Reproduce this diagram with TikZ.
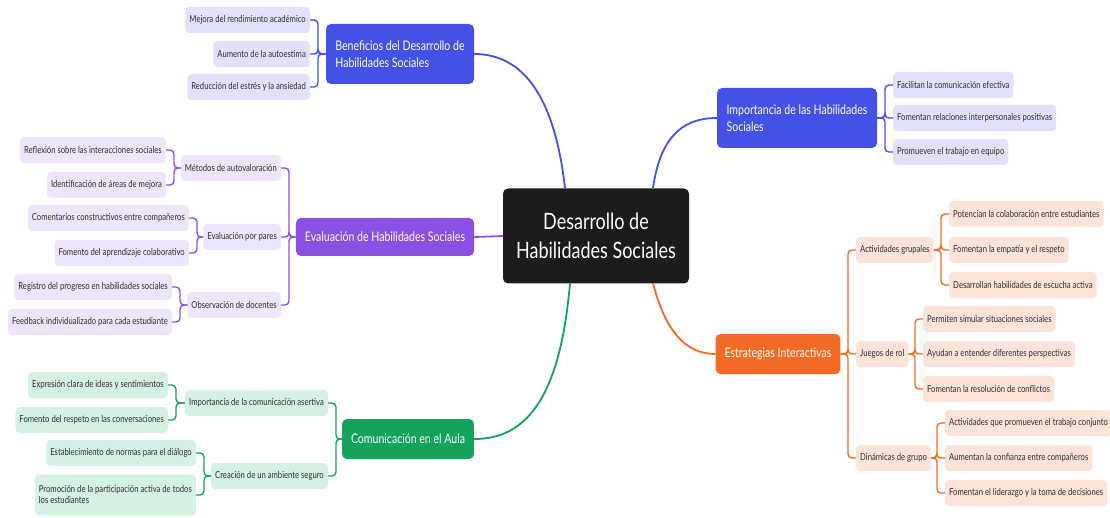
\documentclass[tikz,border=0pt]{standalone}
\usepackage{fontspec}
\setmainfont{Lato}[FakeStretch=0.8]
\definecolor{rootc}{HTML}{1C1C1E}
\definecolor{bluec}{HTML}{4451E6}
\definecolor{bluel}{HTML}{E1E1FB}
\definecolor{purc}{HTML}{8B50E3}
\definecolor{purl}{HTML}{EEE4FB}
\definecolor{grnc}{HTML}{13A35B}
\definecolor{grnl}{HTML}{D5F1E1}
\definecolor{orac}{HTML}{F36A25}
\definecolor{oral}{HTML}{FDE3D8}
\definecolor{leaftext}{HTML}{2E2E2E}
\tikzset{
  leaf/.style={fill=#1,rounded corners=4pt,inner xsep=4pt,minimum height=26pt,
    text=leaftext,font=\fontsize{9.6}{11}\selectfont,align=left},
  branch/.style={fill=#1,rounded corners=5pt,text=white,inner xsep=9pt,
    font=\fontsize{13.2}{16.5}\selectfont,align=left},
  link/.style={draw=#1,line width=1.4pt,rounded corners=4pt},
  trunk/.style={draw=#1,line width=1.8pt},
}
\begin{document}
\begin{tikzpicture}[x=1pt,y=-1pt]
\useasboundingbox(0,0)rectangle(1110,518);
\node[fill=rootc,rounded corners=5pt,text=white,minimum width=186pt,minimum height=95pt,
  font=\fontsize{22.5}{29}\selectfont,align=center](root)at(596,236){Desarrollo de\\Habilidades Sociales};
% ramas
\node[branch=bluec,minimum width=148pt,minimum height=60pt](ben)at(400,54){Beneficios del Desarrollo de\\Habilidades Sociales};
\node[branch=bluec,minimum width=160pt,minimum height=60pt](imp)at(797,118){Importancia de las Habilidades\\Sociales};
\node[branch=purc,minimum width=176pt,minimum height=38pt](eva)at(385,237){Evaluación de Habilidades Sociales};
\node[branch=grnc,minimum width=130pt,minimum height=40pt](com)at(408,439){Comunicación en el Aula};
\node[branch=orac,minimum width=123pt,minimum height=40pt](est)at(778,354){Estrategias Interactivas};
\draw[trunk=bluec](565,188).. controls(555,100)and(525,54)..(ben.east);
\draw[trunk=bluec](653,188).. controls(660,140)and(680,118)..(imp.west);
\draw[trunk=purc](root.west)--(eva.east);
\draw[trunk=grnc](570,283).. controls(560,400)and(525,439)..(com.east);
\draw[trunk=orac](653,283).. controls(665,330)and(685,354)..(est.west);
% beneficios
\node[leaf=bluel,anchor=east](ben1)at(310,20){Mejora del rendimiento académico};
\node[leaf=bluel,anchor=east](ben2)at(310,54){Aumento de la autoestima};
\node[leaf=bluel,anchor=east](ben3)at(310,87){Reducción del estrés y la ansiedad};
\foreach \c in {ben1,ben2,ben3}
  \draw[link=bluec](ben.west)-|([xshift=8pt]\c.east)--(\c.east);
% importancia
\node[leaf=bluel,anchor=west](imp1)at(893,85){Facilitan la comunicación efectiva};
\node[leaf=bluel,anchor=west](imp2)at(893,118){Fomentan relaciones interpersonales positivas};
\node[leaf=bluel,anchor=west](imp3)at(893,152){Promueven el trabajo en equipo};
\foreach \c in {imp1,imp2,imp3}
  \draw[link=bluec](imp.east)-|([xshift=-8pt]\c.west)--(\c.west);
% evaluacion
\node[leaf=purl,anchor=east](met)at(281,168){Métodos de autovaloración};
\node[leaf=purl,anchor=east](par)at(281,237){Evaluación por pares};
\node[leaf=purl,anchor=east](obs)at(281,305){Observación de docentes};
\foreach \c in {met,par,obs}
  \draw[link=purc](eva.west)-|([xshift=8pt]\c.east)--(\c.east);
\node[leaf=purl,anchor=east](met1)at(166,150){Reflexión sobre las interacciones sociales};
\node[leaf=purl,anchor=east](met2)at(166,185){Identificación de áreas de mejora};
\node[leaf=purl,anchor=east](par1)at(189,218){Comentarios constructivos entre compañeros};
\node[leaf=purl,anchor=east](par2)at(189,253){Fomento del aprendizaje colaborativo};
\node[leaf=purl,anchor=east](obs1)at(172,287){Registro del progreso en habilidades sociales};
\node[leaf=purl,anchor=east](obs2)at(172,322){Feedback individualizado para cada estudiante};
\foreach \p/\c in {met/met1,met/met2,par/par1,par/par2,obs/obs1,obs/obs2}
  \draw[link=purc](\p.west)-|([xshift=8pt]\c.east)--(\c.east);
% comunicacion
\node[leaf=grnl,anchor=east](ase)at(328,403){Importancia de la comunicación asertiva};
\node[leaf=grnl,anchor=east](amb)at(328,476){Creación de un ambiente seguro};
\foreach \c in {ase,amb}
  \draw[link=grnc](com.west)-|([xshift=8pt]\c.east)--(\c.east);
\node[leaf=grnl,anchor=east](ase1)at(168,385){Expresión clara de ideas y sentimientos};
\node[leaf=grnl,anchor=east](ase2)at(168,420){Fomento del respeto en las conversaciones};
\node[leaf=grnl,anchor=east](amb1)at(196,453){Establecimiento de normas para el diálogo};
\node[leaf=grnl,anchor=east,minimum height=41pt](amb2)at(196,495){Promoción de la participación activa de todos\\los estudiantes};
\foreach \p/\c in {ase/ase1,ase/ase2,amb/amb1,amb/amb2}
  \draw[link=grnc](\p.west)-|([xshift=8pt]\c.east)--(\c.east);
% estrategias
\node[leaf=oral,anchor=west](gru)at(856,250){Actividades grupales};
\node[leaf=oral,anchor=west](rol)at(856,354){Juegos de rol};
\node[leaf=oral,anchor=west](din)at(856,458){Dinámicas de grupo};
\foreach \c in {gru,rol,din}
  \draw[link=orac](est.east)-|([xshift=-8pt]\c.west)--(\c.west);
\node[leaf=oral,anchor=west](gru1)at(949,214){Potencian la colaboración entre estudiantes};
\node[leaf=oral,anchor=west](gru2)at(949,250){Fomentan la empatía y el respeto};
\node[leaf=oral,anchor=west](gru3)at(949,285){Desarrollan habilidades de escucha activa};
\node[leaf=oral,anchor=west](rol1)at(923,319){Permiten simular situaciones sociales};
\node[leaf=oral,anchor=west](rol2)at(923,354){Ayudan a entender diferentes perspectivas};
\node[leaf=oral,anchor=west](rol3)at(923,389){Fomentan la resolución de conflictos};
\node[leaf=oral,anchor=west](din1)at(945,423){Actividades que promueven el trabajo conjunto};
\node[leaf=oral,anchor=west](din2)at(945,458){Aumentan la confianza entre compañeros};
\node[leaf=oral,anchor=west](din3)at(945,493){Fomentan el liderazgo y la toma de decisiones};
\foreach \p/\c in {gru/gru1,gru/gru2,gru/gru3,rol/rol1,rol/rol2,rol/rol3,din/din1,din/din2,din/din3}
  \draw[link=orac](\p.east)-|([xshift=-8pt]\c.west)--(\c.west);
\end{tikzpicture}
\end{document}
